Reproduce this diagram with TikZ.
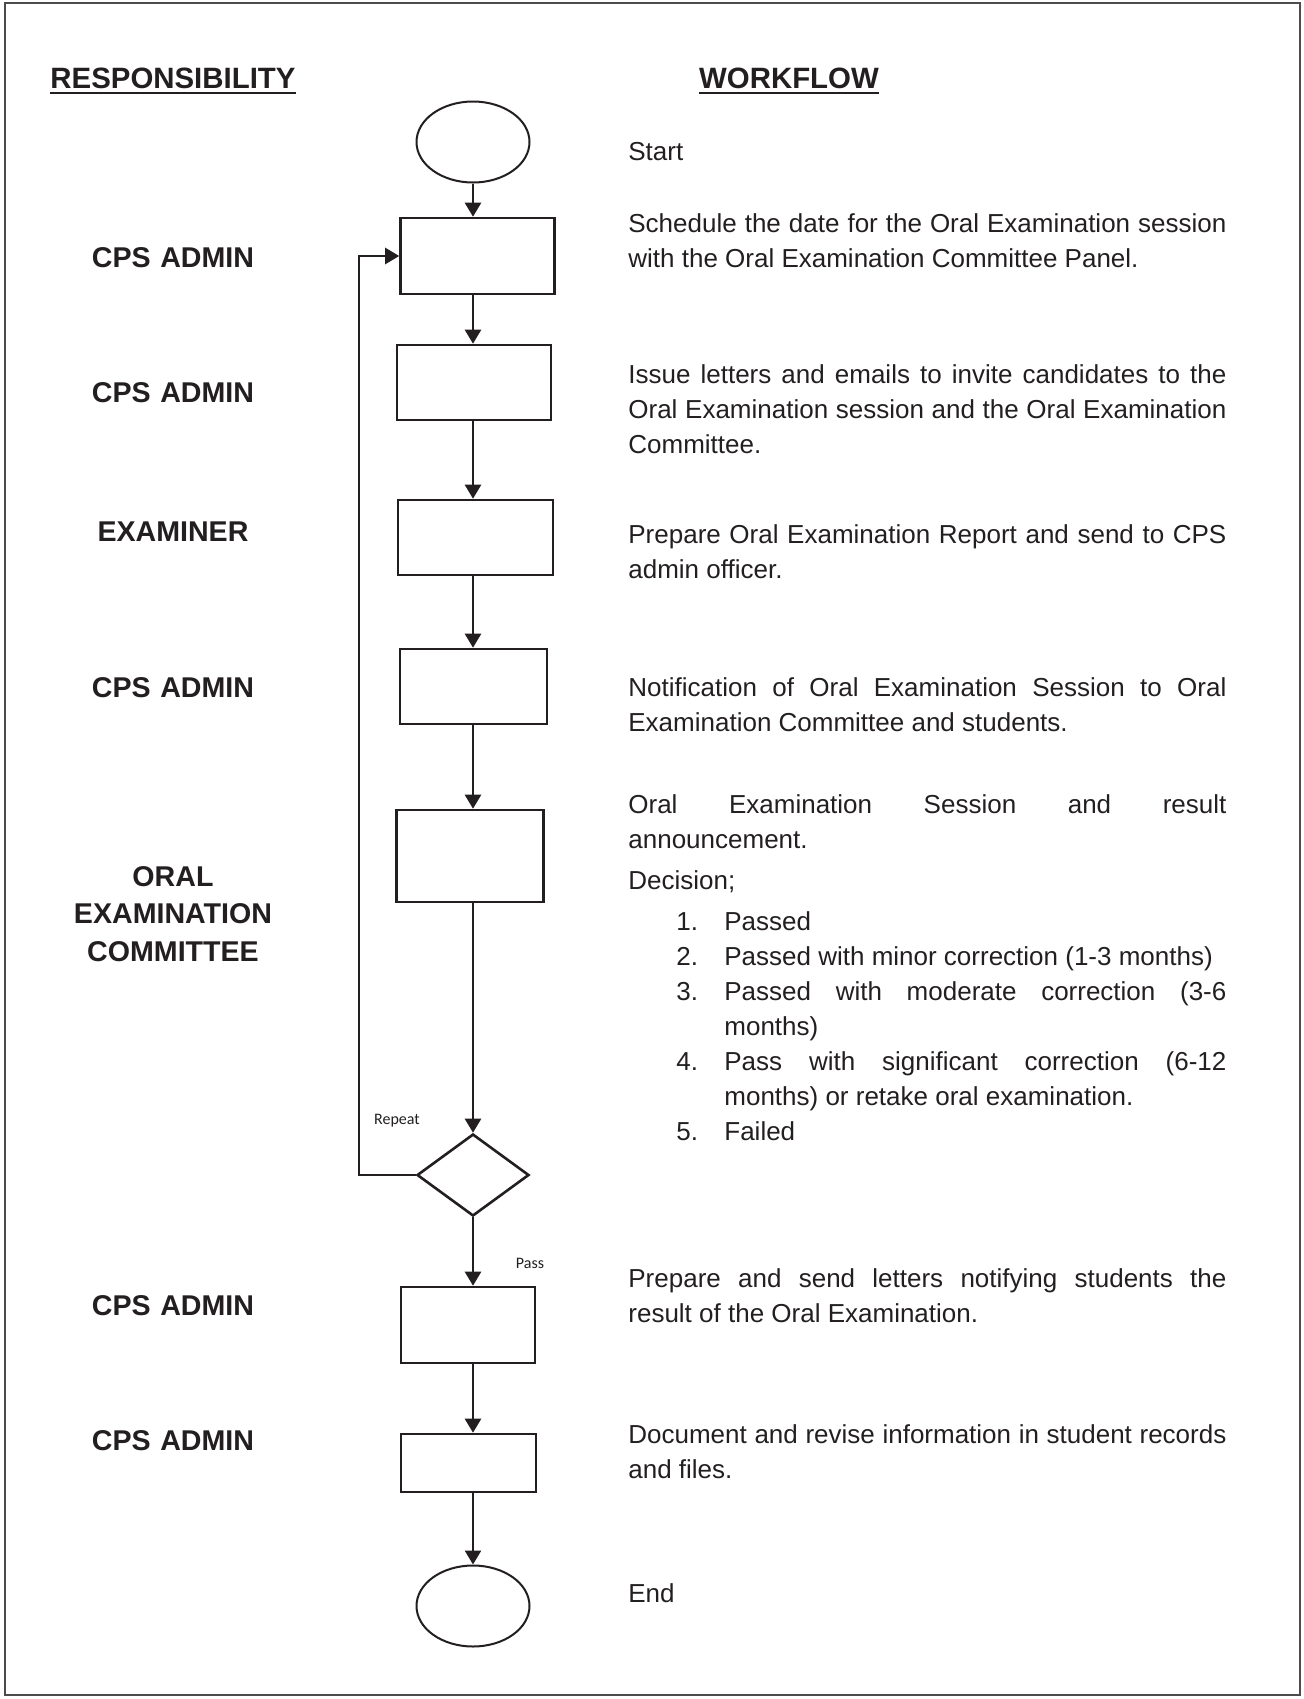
\documentclass[tikz,border=0pt]{standalone}
\usepackage{fontspec}
\setmainfont{Liberation Sans}
\newfontfamily\notefont{Carlito}
\usepackage{tikz}
\usetikzlibrary{arrows.meta,shapes.geometric}

\definecolor{ink}{RGB}{35,31,32}
\hyphenpenalty=10000
\exhyphenpenalty=10000
\tolerance=9999

% numbered decision line
\newcommand\decitem[2]{{\leftskip=48pt\noindent\llap{\makebox[24pt][l]{#1}}#2\par}}

\begin{document}
\begin{tikzpicture}[x=0.5pt,y=-0.5pt,>={Triangle[length=7pt,width=8pt]},
  every node/.style={text=ink},
  hdr/.style={font=\fontsize{14.7}{17}\selectfont\bfseries,anchor=base,inner sep=0pt},
  role/.style={font=\fontsize{14.3}{18.75}\selectfont\bfseries,anchor=base,inner sep=0pt,
    text width=130pt,align=center},
  desc/.style={font=\fontsize{13}{17.5}\selectfont,anchor=base west,inner sep=0pt,
    text width=299pt,align=justify},
  proc/.style={draw=ink,line width=1.3pt,rectangle,inner sep=0pt},
  term/.style={draw=ink,line width=1pt,ellipse,inner sep=0pt,
    minimum width=56.5pt,minimum height=40.5pt},
  choice/.style={draw=ink,line width=1.3pt,diamond,inner sep=0pt,
    minimum width=56pt,minimum height=41pt},
  flow/.style={->,draw=ink,line width=1.3pt},
  note/.style={font=\notefont\fontsize{8}{9}\selectfont,inner sep=0pt},
]

\useasboundingbox (0,0) rectangle (1304,1699);
\draw[black!70,line width=0.6pt] (5,3) rectangle (1300,1695);

% column heads
\node[hdr] (hresp) at (173,88) {RESPONSIBILITY};
\node[hdr] (hflow) at (789,88) {WORKFLOW};
\draw[ink,line width=1.2pt] ([yshift=-2.5pt]hresp.base west) -- ([yshift=-2.5pt]hresp.base east);
\draw[ink,line width=1.2pt] ([yshift=-2.5pt]hflow.base west) -- ([yshift=-2.5pt]hflow.base east);

% who does it
\node[role] (r1) at (173,267) {CPS ADMIN};
\node[role] (r2) at (173,402) {CPS ADMIN};
\node[role] (r3) at (173,541) {EXAMINER};
\node[role] (r4) at (173,697) {CPS ADMIN};
\node[role] (r5) at (173,886) {ORAL\\EXAMINATION\\COMMITTEE};
\node[role] (r6) at (173,1315) {CPS ADMIN};
\node[role] (r7) at (173,1450) {CPS ADMIN};

% flow chart
\node[term] (start) at (473,142) {};
\node[proc,minimum width=77pt,minimum height=38pt] (b1) at (477.5,256) {};
\node[proc,minimum width=77pt,minimum height=37.5pt] (b2) at (474,382.5) {};
\node[proc,minimum width=77.5pt,minimum height=37.5pt] (b3) at (475.5,537.5) {};
\node[proc,minimum width=73.5pt,minimum height=37.5pt] (b4) at (473.5,686.5) {};
\node[proc,minimum width=73.5pt,minimum height=46pt] (b5) at (470,856) {};
\node[choice] (dec) at (473,1175) {};
\node[proc,minimum width=67pt,minimum height=38pt] (b6) at (468,1325) {};
\node[proc,minimum width=67.5pt,minimum height=29pt] (b7) at (468.5,1463) {};
\node[term] (end) at (473,1606) {};

\foreach \a/\b in {start/b1,b1/b2,b2/b3,b3/b4,b4/b5,b5/dec,dec/b6,b6/b7,b7/end}
  \draw[flow] (\a.south -| start) -- (\b.north -| start);

\coordinate (back) at (359,1175);
\draw[flow] (dec.west) -- (back) |- (b1.west);
\node[note] (rep) at (397,1121) {Repeat};
\node[note] (pass) at (530,1263) {Pass};

% what happens
\node[desc] (t0) at (628,160) {Start};
\node[desc] (t1) at (628,232) {Schedule the date for the Oral Examination session\linebreak
  with the Oral Examination Committee Panel.};
\node[desc] (t2) at (628,383) {Issue letters and emails to invite candidates to the\linebreak
  Oral Examination session and the Oral Examination\linebreak Committee.};
\node[desc] (t3) at (628,543) {Prepare Oral Examination Report and send to CPS\linebreak
  admin officer.};
\node[desc] (t4) at (628,696) {Notification of Oral Examination Session to Oral\linebreak
  Examination Committee and students.};
\node[desc] (t5) at (628,813) {Oral Examination Session and result\linebreak
  announcement.\par\vspace{3pt}
  Decision;\par\vspace{3pt}
  \decitem{1.}{Passed}
  \decitem{2.}{Passed with minor correction (1-3 months)}
  \decitem{3.}{Passed with moderate correction \mbox{(3-6}\linebreak months)}
  \decitem{4.}{Pass with significant correction \mbox{(6-12}\linebreak
    months) or retake oral examination.}
  \decitem{5.}{Failed}};
\node[desc] (t6) at (628,1287) {Prepare and send letters notifying students the\linebreak
  result of the Oral Examination.};
\node[desc] (t7) at (628,1443) {Document and revise information in student records\linebreak
  and files.};
\node[desc] (t8) at (628,1602) {End};

\end{tikzpicture}
\end{document}
